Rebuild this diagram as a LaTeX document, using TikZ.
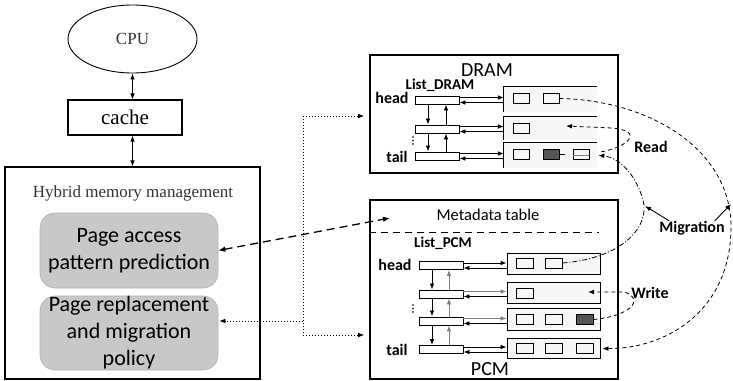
\documentclass[tikz,border=0pt]{standalone}
\usepackage{fontspec}
\setmainfont{Carlito}
\newfontfamily\tnr{Liberation Serif}
\usetikzlibrary{shapes.geometric,arrows.meta,calc}
\begin{document}
\begin{tikzpicture}[x=1pt,y=-1pt,
  box/.style={draw, line width=1.2pt, inner sep=0pt},
  membox/.style={draw, line width=1.6pt, inner sep=0pt},
  gbox/.style={draw=gray!60, line width=0.6pt, fill={rgb,255:red,200;green,200;blue,200}, rounded corners=15pt, inner sep=0pt, align=center, font=\fontsize{22}{27}\selectfont},
  elem/.style={draw, line width=0.9pt, fill=white, minimum width=44, minimum height=8, inner sep=0pt},
  rowbox/.style={fill=gray!6, minimum width=93, inner sep=0pt},
  pbox/.style={draw, line width=0.8pt, fill=gray!6, minimum width=16, minimum height=10, inner sep=0pt},
  darkbox/.style={pbox, fill={rgb,255:red,85;green,85;blue,85}},
  lbl/.style={font=\bfseries\fontsize{16}{18}\selectfont, inner sep=0pt},
  arr/.style={-{Latex[length=6pt,width=4.6pt]}, line width=0.8pt},
  darr/.style={{Latex[length=6pt,width=4.6pt]}-{Latex[length=6pt,width=4.6pt]}, line width=0.9pt},
  curvedash/.style={line width=0.8pt, dash pattern=on 4pt off 3pt},
  dotline/.style={line width=1pt, dash pattern=on 1pt off 2pt},
  bigdash/.style={line width=1.3pt, dash pattern=on 8pt off 5pt}]
\useasboundingbox (0,0) rectangle (733,380);

% ---------- left column ----------
\node[ellipse, draw, line width=0.9pt, minimum width=129, minimum height=68, inner sep=0pt,
      font=\tnr\fontsize{17}{19}\selectfont, text=black!80] (cpu) at (132.5,39) {CPU};
\node[box, minimum width=114, minimum height=35, font=\tnr\fontsize{21}{23}\selectfont] (cache) at (125,117.5) {cache};
\node[box, minimum width=255, minimum height=212] (hmm) at (132.5,273) {};
\node[font=\tnr\fontsize{17}{19}\selectfont, text=black!80, inner sep=0pt] (hmmt) at (133,193) {Hybrid memory management};
\node[gbox, minimum width=178, minimum height=75] (pred) at (129,250.5) {Page access\\pattern prediction};
\node[gbox, minimum width=178, minimum height=74] (repl) at (129,333) {Page replacement\\and migration\\policy};

\draw[darr] (cpu.south) -- (cpu.south |- cache.north);
\draw[darr] (cache.south -| cpu.south) -- (cpu.south |- hmm.north);

% ---------- memory boxes ----------
\node[membox, minimum width=248, minimum height=118] (dram) at (494,114) {};
\node[membox, minimum width=248, minimum height=179] (pcm) at (494,289.5) {};
\node[inner sep=0pt, font=\fontsize{20}{22}\selectfont] (dramt) at (487,70) {DRAM};
\node[inner sep=0pt, font=\fontsize{20}{22}\selectfont] (pcmt) at (490,369) {PCM};
\node[inner sep=0pt, font=\fontsize{16.5}{18}\selectfont] (meta) at (488,215) {Metadata table};
\draw[line width=1.4pt, dash pattern=on 7pt off 5pt] ([yshift=-33pt]pcm.north west) -- ++(230,0);

% ---------- connectors left/right ----------
\coordinate (ht) at (303,116);
\coordinate (hb) at (303,335);
\coordinate (hub) at (303,321);
\coordinate (mt) at (390,218);
\draw[dotline] (ht) -- (hb);
\draw[dotline, arr, shorten >=5pt] (ht) -- (ht -| dram.west);
\draw[dotline, arr, shorten >=5pt] (hb) -- (hb -| pcm.west);
\draw[dotline, arr, shorten >=1pt] (hub) -- (hub -| repl.east);
\draw[bigdash, {Latex[length=7pt,width=5.5pt]}-{Latex[length=7pt,width=5.5pt]}] (pred.east) -- (mt);

% ---------- DRAM list ----------
\node[lbl, font=\bfseries\fontsize{15}{17}\selectfont] (ldram) at (440,85) {List\_DRAM};
\node[lbl] (dhead) at (392,98) {head};
\node[lbl] (dtail) at (397,157) {tail};
\node[elem] (de1) at (437,100) {};
\node[elem] (de2) at (437,129) {};
\node[elem] (de3) at (437,156) {};
\foreach \yy in {137,140.5,144} \fill (413,\yy) circle (0.8);

\node[rowbox, minimum height=25] (dr1) at (550.5,99.5) {};
\node[rowbox, minimum height=23] (dr2) at (550.5,128.5) {};
\node[rowbox, minimum height=25] (dr3) at (550.5,155.5) {};
\foreach \r in {dr1,dr2,dr3}
  \draw[line width=0.9pt] (\r.north east) -- (\r.north west) -- (\r.south west);

\foreach \e/\r in {de1/dr1,de2/dr2,de3/dr3}{
  \draw[arr] ([yshift=2.5pt]\e.east) -- ([yshift=2.5pt]\e.east -| \r.west);
  \draw[arr] ([yshift=-2.5pt]\e.east -| \r.west) -- ([yshift=-2.5pt]\e.east);
}
\draw[arr] ([xshift=-9pt]de1.south) -- ([xshift=-9pt]de2.north);
\draw[arr] ([xshift=9pt]de2.north) -- ([xshift=9pt]de1.south);
\draw[arr] ([xshift=-9pt]de2.south) -- ([xshift=-9pt]de3.north);
\draw[arr] ([xshift=9pt]de3.north) -- ([xshift=9pt]de2.south);

\node[pbox] (d11) at (521,98.5) {};
\node[pbox] (d12) at (551,98.5) {};
\node[pbox] (d21) at (521,128) {};
\node[pbox] (d31) at (521,154) {};
\node[darkbox] (d32) at (551,154) {};
\node[pbox] (d33) at (581,154) {};
\draw[line width=0.5pt, gray] ([yshift=-1.5pt]d33.west) -- ([yshift=-1.5pt]d33.east);
\draw[line width=0.8pt, dash pattern=on 6pt off 8pt] (d32.east) -- (d33.west);

% ---------- PCM list ----------
\node[lbl, font=\bfseries\fontsize{15}{17}\selectfont] (lpcm) at (443,243) {List\_PCM};
\node[lbl] (phead) at (395,265) {head};
\node[lbl] (ptail) at (397,350) {tail};
\node[elem] (pe1) at (441,265.5) {};
\node[elem] (pe2) at (441,294) {};
\node[elem] (pe3) at (441,321) {};
\node[elem] (pe4) at (441,349.5) {};
\foreach \yy in {305,308.5,312} \fill (413,\yy) circle (0.8);

\node[rowbox, minimum height=21, draw, line width=0.9pt] (pr1) at (553.5,263.5) {};
\node[rowbox, minimum height=21, draw, line width=0.9pt] (pr2) at (553.5,292.5) {};
\node[rowbox, minimum height=22, draw, line width=0.9pt] (pr3) at (553.5,319) {};
\node[rowbox, minimum height=20, draw, line width=0.9pt] (pr4) at (553.5,348) {};

\draw[arr] ([yshift=2.5pt]pe1.east) -- ([yshift=2.5pt]pe1.east -| pr1.west);
\draw[arr] ([yshift=-2.5pt]pe1.east -| pr1.west) -- ([yshift=-2.5pt]pe1.east);
\draw[arr, gray] ([yshift=2.5pt]pe2.east) -- ([yshift=2.5pt]pe2.east -| pr2.west);
\draw[arr] ([yshift=-2.5pt]pe2.east -| pr2.west) -- ([yshift=-2.5pt]pe2.east);
\draw[arr, gray] ([yshift=2.5pt]pe3.east) -- ([yshift=2.5pt]pe3.east -| pr3.west);
\draw[arr] ([yshift=-2.5pt]pe3.east -| pr3.west) -- ([yshift=-2.5pt]pe3.east);
\draw[arr] ([yshift=2.5pt]pe4.east) -- ([yshift=2.5pt]pe4.east -| pr4.west);
\draw[arr] ([yshift=-2.5pt]pe4.east -| pr4.west) -- ([yshift=-2.5pt]pe4.east);

\foreach \a/\b in {pe1/pe2,pe2/pe3,pe3/pe4}{
  \draw[arr] ([xshift=-9pt]\a.south) -- ([xshift=-9pt]\b.north);
  \draw[arr, gray] ([xshift=8pt]\b.north) -- ([xshift=8pt]\a.south);
}

\node[pbox, minimum width=17] (p11) at (524.5,263) {};
\node[pbox, minimum width=17] (p12) at (553.5,263) {};
\node[pbox, minimum width=17] (p21) at (524.5,293) {};
\node[pbox, minimum width=17] (p31) at (524.5,319.5) {};
\node[pbox, minimum width=17] (p32) at (553.5,319.5) {};
\node[darkbox, minimum width=17] (p33) at (584.5,319.5) {};
\node[pbox, minimum width=17] (p41) at (524.5,348.5) {};
\node[pbox, minimum width=17] (p42) at (553.5,348.5) {};
\node[pbox, minimum width=17] (p43) at (584.5,348.5) {};

% ---------- Read / Write / Migration ----------
\node[lbl] (read) at (651,147) {Read};
\node[lbl] (write) at (650,293) {Write};
\node[lbl] (mig) at (692,228) {Migration};
\coordinate (rd2) at (566,126);
\coordinate (wr2) at (588,292);
\coordinate (m1) at (731,204);
\coordinate (m2) at (645,206);

\draw[curvedash, arr, shorten <=12pt] (d33.east) .. controls (628,147) and (645,131) .. (612,128) -- (rd2);
\draw[curvedash, arr] (p33.east) .. controls (630,316) and (645,300) .. (625,292) -- (wr2);
\draw[line width=0.8pt, dash pattern=on 5pt off 2pt on 1pt off 2pt, arr, shorten >=9pt]
  (p12.east) .. controls (625,258) and (650,225) .. (643,200) .. controls (636,175) and (620,158) .. (d33.east);
\draw[curvedash, arr, shorten >=9pt]
  (d12.east) .. controls (650,100) and (733,150) .. (731,230) .. controls (729,315) and (662,349) .. (p43.east);
\draw[arr, line width=0.9pt] ([xshift=10pt]mig.north west) -- (m2);
\draw[arr, line width=0.9pt] ([xshift=-10pt]mig.north east) -- (m1);
\end{tikzpicture}
\end{document}
